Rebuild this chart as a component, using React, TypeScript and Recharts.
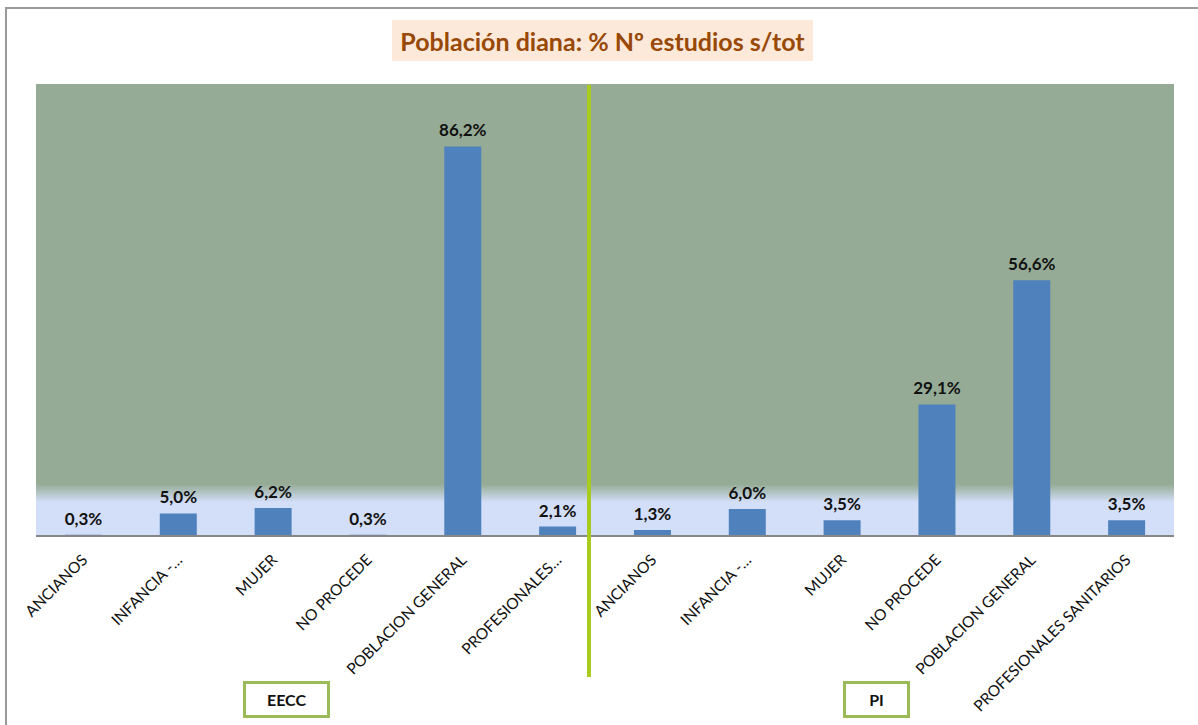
import * as React from "react";
import { BarChart, Bar, XAxis, YAxis, CartesianGrid, LabelList } from "recharts";

const categories = [
  "ANCIANOS",
  "INFANCIA -…",
  "MUJER",
  "NO PROCEDE",
  "POBLACION GENERAL",
  "PROFESIONALES…",
  "ANCIANOS",
  "INFANCIA -…",
  "MUJER",
  "NO PROCEDE",
  "POBLACION GENERAL",
  "PROFESIONALES SANITARIOS",
];
const eeccValues = [0.3, 5.0, 6.2, 0.3, 86.2, 2.1];
const piValues = [1.3, 6.0, 3.5, 29.1, 56.6, 3.5];
const groupLabels = ["EECC", "PI"];

const values = [...eeccValues, ...piValues];
const data = categories.map((name, i) => ({ id: i, name, value: values[i] }));

const FONT = "Lato, 'Open Sans', sans-serif";
const W = 1198;
const H = 725;

const fmtPct = (v: unknown) => `${Number(v).toFixed(1).replace(".", ",")}%`;

// rotated category labels, anchored at their end next to the tick
function RotatedTick(props: any) {
  const { x, y, payload } = props;
  const label = categories[payload.value] ?? "";
  return (
    <g transform={`translate(${x + 5},${y + 17})`}>
      <text
        transform="rotate(-45)"
        textAnchor="end"
        fontFamily={FONT}
        fontSize={15.5}
        fill="#111"
      >
        {label}
      </text>
    </g>
  );
}

function GroupBox({ left, width, text }: { left: number; width: number; text: string }) {
  return (
    <div
      style={{
        position: "absolute",
        left,
        top: 681,
        width,
        height: 37,
        boxSizing: "border-box",
        border: "3px solid #9BBB59",
        background: "#fff",
        display: "flex",
        alignItems: "center",
        justifyContent: "center",
        fontFamily: FONT,
        fontWeight: 700,
        fontSize: 16,
        color: "#111",
      }}
    >
      {text}
    </div>
  );
}

export default function App() {
  return (
    <div
      style={{
        position: "absolute",
        left: 0,
        top: 0,
        width: W,
        height: H,
        overflow: "hidden",
        background: "#fff",
      }}
    >
      {/* outer frame, runs off the right and bottom edges */}
      <div
        style={{
          position: "absolute",
          left: 5,
          top: 7,
          width: W + 20,
          height: H + 20,
          borderLeft: "2px solid #9a9a9a",
          borderTop: "2px solid #9a9a9a",
        }}
      />

      <div
        style={{
          position: "absolute",
          left: 392,
          top: 20,
          width: 421,
          height: 41,
          background: "#FDE9D9",
          color: "#984807",
          fontFamily: FONT,
          fontWeight: 700,
          fontSize: 25,
          display: "flex",
          alignItems: "center",
          justifyContent: "center",
          whiteSpace: "nowrap",
        }}
      >
        Población diana: % Nº estudios s/tot
      </div>

      <div style={{ position: "absolute", left: 0, top: 0 }}>
        <BarChart
          width={W}
          height={H}
          data={data}
          margin={{ top: 84, right: 24, bottom: 39, left: 36 }}
          barCategoryGap="30%"
        >
          <defs>
            <linearGradient id="plotBg" x1="0" y1="0" x2="0" y2="1">
              <stop offset="0%" stopColor="#95AB95" />
              <stop offset="88.5%" stopColor="#95AB95" />
              <stop offset="92.5%" stopColor="#D3DEF8" />
              <stop offset="100%" stopColor="#D3DEF8" />
            </linearGradient>
          </defs>
          <CartesianGrid
            fill="url(#plotBg)"
            fillOpacity={1}
            horizontal={false}
            vertical={false}
          />
          <XAxis
            dataKey="id"
            type="category"
            height={150}
            interval={0}
            tickLine={false}
            axisLine={{ stroke: "#868686", strokeWidth: 2 }}
            tick={<RotatedTick />}
          />
          <YAxis hide domain={[0, 100]} />
          <Bar dataKey="value" fill="#4F81BD" isAnimationActive={false} maxBarSize={37}>
            <LabelList
              dataKey="value"
              position="top"
              offset={10}
              formatter={fmtPct}
              style={{ fontFamily: FONT, fontWeight: 700, fontSize: 17, fill: "#111" }}
            />
          </Bar>
        </BarChart>
      </div>

      {/* divider between the two groups */}
      <div
        style={{
          position: "absolute",
          left: 587,
          top: 85,
          width: 4,
          height: 592,
          background: "#A9CB1E",
        }}
      />

      <GroupBox left={243} width={87} text={groupLabels[0]} />
      <GroupBox left={843} width={67} text={groupLabels[1]} />
    </div>
  );
}
